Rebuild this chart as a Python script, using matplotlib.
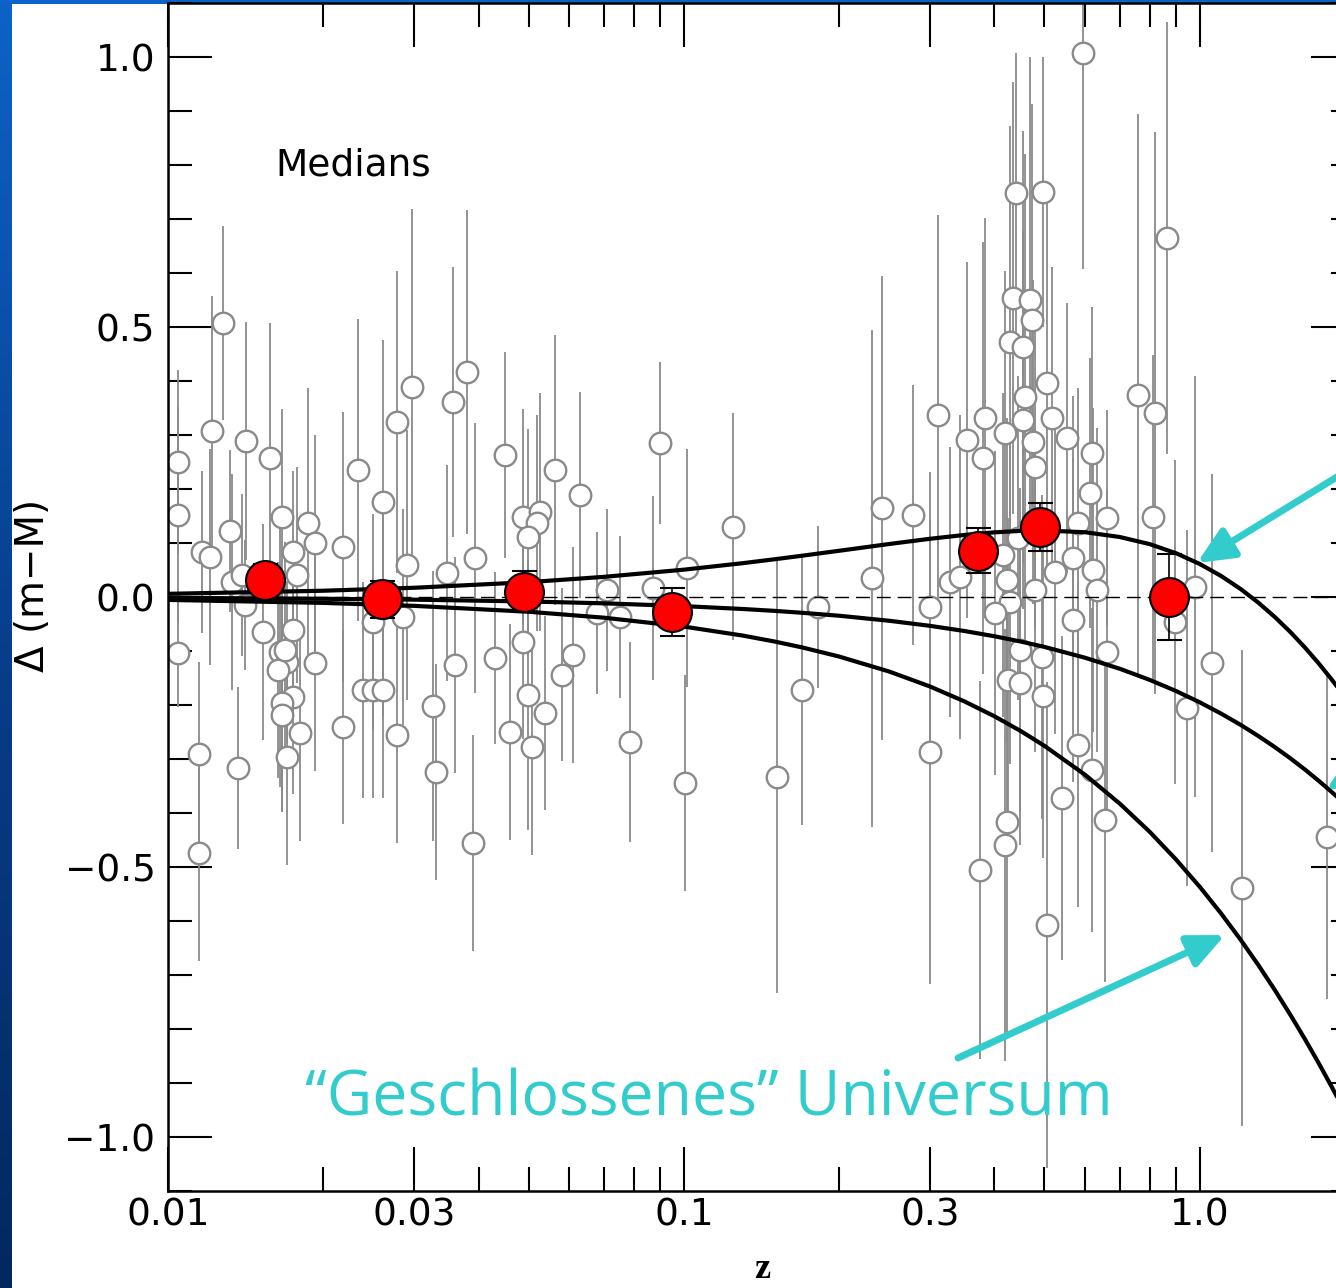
import numpy as np
import matplotlib
matplotlib.use("Agg")
import matplotlib.pyplot as plt
from matplotlib.patches import Rectangle, FancyArrowPatch
from matplotlib.colors import LinearSegmentedColormap
from matplotlib.ticker import FixedLocator, NullFormatter

W, H = 1336, 1288

# ---- nearby supernovae (z < 0.2): redshift, Delta(m-M), 1-sigma error ----
near_z = [0.01046, 0.01046, 0.01046, 0.01150, 0.01150, 0.01164, 0.01206, 0.01217, 0.01278, 0.01319,
          0.01367, 0.01416, 0.01331, 0.01391, 0.01410,
          0.01576, 0.01528, 0.01663, 0.01747, 0.01778, 0.01867, 0.01927, 0.01648, 0.01701, 0.01634,
          0.01747, 0.01663, 0.01663, 0.01803, 0.01701, 0.01927, 0.02184, 0.02184, 0.01686, 0.01747,
          0.02334, 0.02610, 0.02779, 0.02971, 0.03567, 0.03798, 0.02905, 0.03473, 0.03936, 0.02387,
          0.02496, 0.02610, 0.02496, 0.02853, 0.02779, 0.03263, 0.03307, 0.03599, 0.03901, 0.02610,
          0.04498, 0.05623, 0.06287, 0.08984, 0.1245, 0.04875, 0.05259, 0.05190, 0.04986, 0.07092,
          0.08709, 0.1014, 0.06783, 0.07516, 0.04875, 0.04302, 0.06094, 0.05802, 0.04986, 0.05378,
          0.04600, 0.05075, 0.07858, 0.1004, 0.1514, 0.1693, 0.1819]
near_dm = [0.250, 0.152, -0.104, -0.291, -0.474, 0.083, 0.074, 0.307, 0.507, 0.122,
           -0.317, 0.289, 0.028, 0.041, -0.015,
           0.257, -0.065, 0.148, 0.083, 0.041, 0.137, 0.100, -0.102, -0.120, -0.135,
           -0.185, -0.196, -0.219, -0.252, -0.296, -0.122, 0.093, -0.241, -0.098, -0.061,
           0.235, 0.176, 0.324, 0.389, 0.361, 0.417, 0.059, 0.044, 0.072, -0.172,
           -0.172, -0.172, -0.046, -0.037, -0.256, -0.202, -0.324, -0.126, -0.456, -0.020,
           0.263, 0.235, 0.189, 0.285, 0.130, 0.148, 0.157, 0.137, 0.111, 0.013,
           0.017, 0.054, -0.030, -0.037, -0.083, -0.113, -0.107, -0.144, -0.181, -0.215,
           -0.250, -0.278, -0.269, -0.344, -0.333, -0.172, -0.019]
near_err = [0.17, 0.20, 0.10, 0.17, 0.20, 0.15, 0.20, 0.25, 0.18, 0.15,
            0.15, 0.22, 0.20, 0.15, 0.12,
            0.25, 0.20, 0.20, 0.15, 0.20, 0.25, 0.20, 0.25, 0.15, 0.20,
            0.18, 0.20, 0.18, 0.20, 0.20, 0.20, 0.25, 0.18, 0.20, 0.15,
            0.28, 0.30, 0.28, 0.33, 0.25, 0.30, 0.25, 0.20, 0.25, 0.20,
            0.20, 0.20, 0.20, 0.20, 0.20, 0.25, 0.20, 0.20, 0.20, 0.20,
            0.19, 0.25, 0.19, 0.15, 0.21, 0.20, 0.22, 0.20, 0.20, 0.15,
            0.17, 0.22, 0.15, 0.15, 0.18, 0.16, 0.20, 0.16, 0.25, 0.18,
            0.20, 0.20, 0.185, 0.20, 0.40, 0.25, 0.15]

# ---- distant supernovae (z > 0.2) ----
far_z = [0.2419, 0.2778, 0.2313, 0.2998, 0.2998, 0.3106, 0.3277, 0.3427, 0.3535, 0.3831,
         0.3797, 0.4189, 0.4580, 0.4539, 0.4747, 0.5167, 0.5523, 0.6176, 0.6121, 0.6604,
         0.5801, 0.4152, 0.4227, 0.4789, 0.4284, 0.5236, 0.5674, 0.6204, 0.6316, 0.4007,
         0.5674, 0.8108, 0.8181, 0.7584, 0.9779, 0.8945, 1.055, 0.4941, 0.6604, 0.9436,
         1.762, 1.206, 0.6545, 0.5403, 0.6176, 0.5801, 0.5933, 0.4400, 0.4963, 0.8630,
         0.4341, 0.4284, 0.4539, 0.4683, 0.4725, 0.5053, 0.3746, 0.4189, 0.4227, 0.4246,
         0.4479, 0.4963, 0.5053, 0.4479, 0.4440, 0.4789]
far_dm = [0.165, 0.152, 0.035, -0.019, -0.287, 0.337, 0.028, 0.037, 0.291, 0.331,
          0.257, 0.304, 0.370, 0.328, 0.287, 0.331, 0.294, 0.267, 0.193, 0.146,
          0.137, 0.078, 0.031, 0.013, -0.009, 0.046, 0.072, 0.050, 0.013, -0.030,
          -0.043, 0.148, 0.341, 0.374, 0.019, -0.046, -0.122, -0.111, -0.102, -0.206,
          -0.444, -0.539, -0.413, -0.372, -0.320, -0.274, 1.007, 0.748, 0.750, 0.665,
          0.554, 0.472, 0.463, 0.550, 0.513, 0.396, -0.506, -0.459, -0.417, -0.154,
          -0.159, -0.183, -0.607, -0.098, 0.109, 0.241]
far_err = [0.43, 0.24, 0.46, 0.25, 0.43, 0.37, 0.25, 0.30, 0.33, 0.37,
           0.40, 0.30, 0.45, 0.35, 0.30, 0.28, 0.25, 0.27, 0.25, 0.20,
           0.25, 0.30, 0.30, 0.30, 0.30, 0.30, 0.30, 0.30, 0.30, 0.30,
           0.30, 0.30, 0.52, 0.52, 0.39, 0.30, 0.35, 0.30, 0.30, 0.33,
           0.30, 0.44, 0.30, 0.30, 0.30, 0.30, 0.40, 0.26, 0.25, 0.40,
           0.40, 0.40, 0.40, 0.45, 0.40, 0.35, 0.35, 0.40, 0.40, 0.30,
           0.30, 0.30, 0.45, 0.30, 0.30, 0.30]

# ---- binned medians ----
median_z = [0.0154, 0.0260, 0.0490, 0.0949, 0.372, 0.491, 0.872]
median_dm = [0.031, -0.004, 0.010, -0.028, 0.086, 0.130, 0.000]
median_err = [0.030, 0.034, 0.038, 0.045, 0.041, 0.044, 0.080]

# ---- model curves ----
model_z = [0.01, 0.02, 0.03, 0.05, 0.07, 0.1, 0.13, 0.15, 0.17, 0.2, 0.25, 0.3, 0.35, 0.4, 0.45,
           0.5, 0.6, 0.7, 0.8, 0.9, 1.0, 1.1, 1.2, 1.3, 1.4, 1.5, 1.6, 1.7, 1.8, 1.9, 2.0]
model_lambda = [0.0059, 0.0116, 0.0171, 0.0275, 0.0373, 0.0506, 0.0626, 0.0699, 0.0766, 0.0856,
                0.0981, 0.1078, 0.1149, 0.1197, 0.1224,
                0.1232, 0.1199, 0.1111, 0.0979, 0.0810, 0.0612, 0.0390, 0.0149, -0.0107, -0.0375,
                -0.0652, -0.0937, -0.1227, -0.1521, -0.1818, -0.2117]
model_open = [-0.0016, -0.0033, -0.0049, -0.0083, -0.0117, -0.0169, -0.0222, -0.0257, -0.0293, -0.0347,
              -0.0440, -0.0534, -0.0630, -0.0727, -0.0825,
              -0.0924, -0.1126, -0.1329, -0.1535, -0.1742, -0.1950, -0.2159, -0.2367, -0.2576, -0.2783,
              -0.2990, -0.3196, -0.3402, -0.3606, -0.3808, -0.4010]
model_closed = [-0.0054, -0.0109, -0.0164, -0.0273, -0.0383, -0.0548, -0.0714, -0.0825, -0.0936, -0.1103,
                -0.1380, -0.1657, -0.1934, -0.2209, -0.2483,
                -0.2756, -0.3295, -0.3827, -0.4349, -0.4863, -0.5366, -0.5860, -0.6345, -0.6820, -0.7286,
                -0.7743, -0.8190, -0.8629, -0.9060, -0.9482, -0.9896]

# ---- axis ticks ----
xtick_vals = [0.01, 0.03, 0.1, 0.3, 1.0]
xtick_labels = ["0.01", "0.03", "0.1", "0.3", "1.0"]
xminor_vals = [0.02, 0.04, 0.05, 0.06, 0.07, 0.08, 0.09, 0.2, 0.4, 0.5, 0.6, 0.7, 0.8, 0.9, 2.0]
ytick_vals = [-1.0, -0.5, 0.0, 0.5, 1.0]
ytick_labels = ["\u22121.0", "\u22120.5", "0.0", "0.5", "1.0"]
yminor_vals = [-1.1, -0.9, -0.8, -0.7, -0.6, -0.4, -0.3, -0.2, -0.1,
               0.1, 0.2, 0.3, 0.4, 0.6, 0.7, 0.8, 0.9, 1.1]


def fx(px):
    return px / W


def fy(py):
    return 1 - py / H


fig = plt.figure(figsize=(W / 100, H / 100), dpi=100)

# slide background: blue gradient with a white panel
bg = fig.add_axes([0, 0, 1, 1], zorder=-10)
grad = np.linspace(0, 1, 256).reshape(-1, 1)
cmap_bg = LinearSegmentedColormap.from_list("slide", ["#0d62c8", "#083e8c", "#03285e"])
bg.imshow(grad, aspect="auto", cmap=cmap_bg, extent=[0, 1, 0, 1], origin="upper")
bg.set_axis_off()
fig.add_artist(Rectangle((fx(12), 0), 1, fy(4), transform=fig.transFigure,
                         facecolor="white", edgecolor="none", zorder=-5))

ax = fig.add_axes([fx(168), fy(1191), (1355 - 168) / W, 1188 / H])
ax.set_facecolor("white")
ax.set_xscale("log")
ax.set_xlim(0.01, 2.0)
ax.set_ylim(-1.1, 1.1)

sn_z = np.array(near_z + far_z)
sn_dm = np.array(near_dm + far_dm)
sn_err = np.array(near_err + far_err)

gray = "#8a8a8a"
ax.errorbar(sn_z, sn_dm, yerr=sn_err, fmt="o", ms=15.5, mfc="white", mec=gray, mew=1.7,
            ecolor=gray, elinewidth=1.3, capsize=0, zorder=2)

ax.axhline(0.0, color="black", lw=1.0, dashes=(10, 5), zorder=3)

for curve in (model_lambda, model_open, model_closed):
    ax.plot(model_z, curve, color="black", lw=3.0, solid_capstyle="round",
            solid_joinstyle="round", zorder=4)

ax.errorbar(median_z, median_dm, yerr=median_err, fmt="o", ms=28, mfc="#ff0000", mec="black",
            mew=1.5, ecolor="black", elinewidth=1.2, capsize=9, capthick=1.2, zorder=5)

# ticks on all four sides, pointing inwards
ax.xaxis.set_major_locator(FixedLocator(xtick_vals))
ax.set_xticklabels(xtick_labels)
ax.xaxis.set_minor_locator(FixedLocator(xminor_vals))
ax.xaxis.set_minor_formatter(NullFormatter())
ax.yaxis.set_major_locator(FixedLocator(ytick_vals))
ax.set_yticklabels(ytick_labels)
ax.yaxis.set_minor_locator(FixedLocator(yminor_vals))
ax.tick_params(which="both", direction="in", top=True, right=True, color="black")
ax.tick_params(which="major", length=32, width=1.5, labelsize=27, pad=5)
ax.tick_params(which="minor", length=17, width=1.5)
ax.tick_params(axis="y", which="major", pad=9)
for lab in ax.get_xticklabels() + ax.get_yticklabels():
    lab.set_fontfamily("DejaVu Sans")
for sp in ax.spines.values():
    sp.set_linewidth(1.8)

ax.text((275 - 168) / 1187, (1191 - 165) / 1188, "Medians", transform=ax.transAxes,
        fontsize=27, family="DejaVu Sans", ha="left", va="center")

fig.text(fx(33), fy(585), "\u0394 (m\u2212M)", rotation=90, fontsize=28,
         family="DejaVu Sans", ha="center", va="center")
fig.text(fx(762), fy(1270), "z", fontsize=26, family="Liberation Serif", weight="bold",
         ha="center", va="center")

cyan = "#33cccc"
fig.text(fx(305), fy(1116), "\u201cGeschlossenes\u201d Universum", fontsize=45,
         family="Open Sans", color=cyan, ha="left", va="baseline")

arrows = [((958, 1058), (1225, 935)),
          ((1345, 472), (1197, 563)),
          ((1470, 702), (1326, 790))]
for (x0, y0), (x1, y1) in arrows:
    arr = FancyArrowPatch((fx(x0), fy(y0)), (fx(x1), fy(y1)), transform=fig.transFigure,
                          arrowstyle="-|>,head_length=2.2,head_width=1.0", mutation_scale=10,
                          color=cyan, lw=5, shrinkA=0, shrinkB=0, zorder=10)
    fig.add_artist(arr)

fig.savefig("out.png", dpi=100)
